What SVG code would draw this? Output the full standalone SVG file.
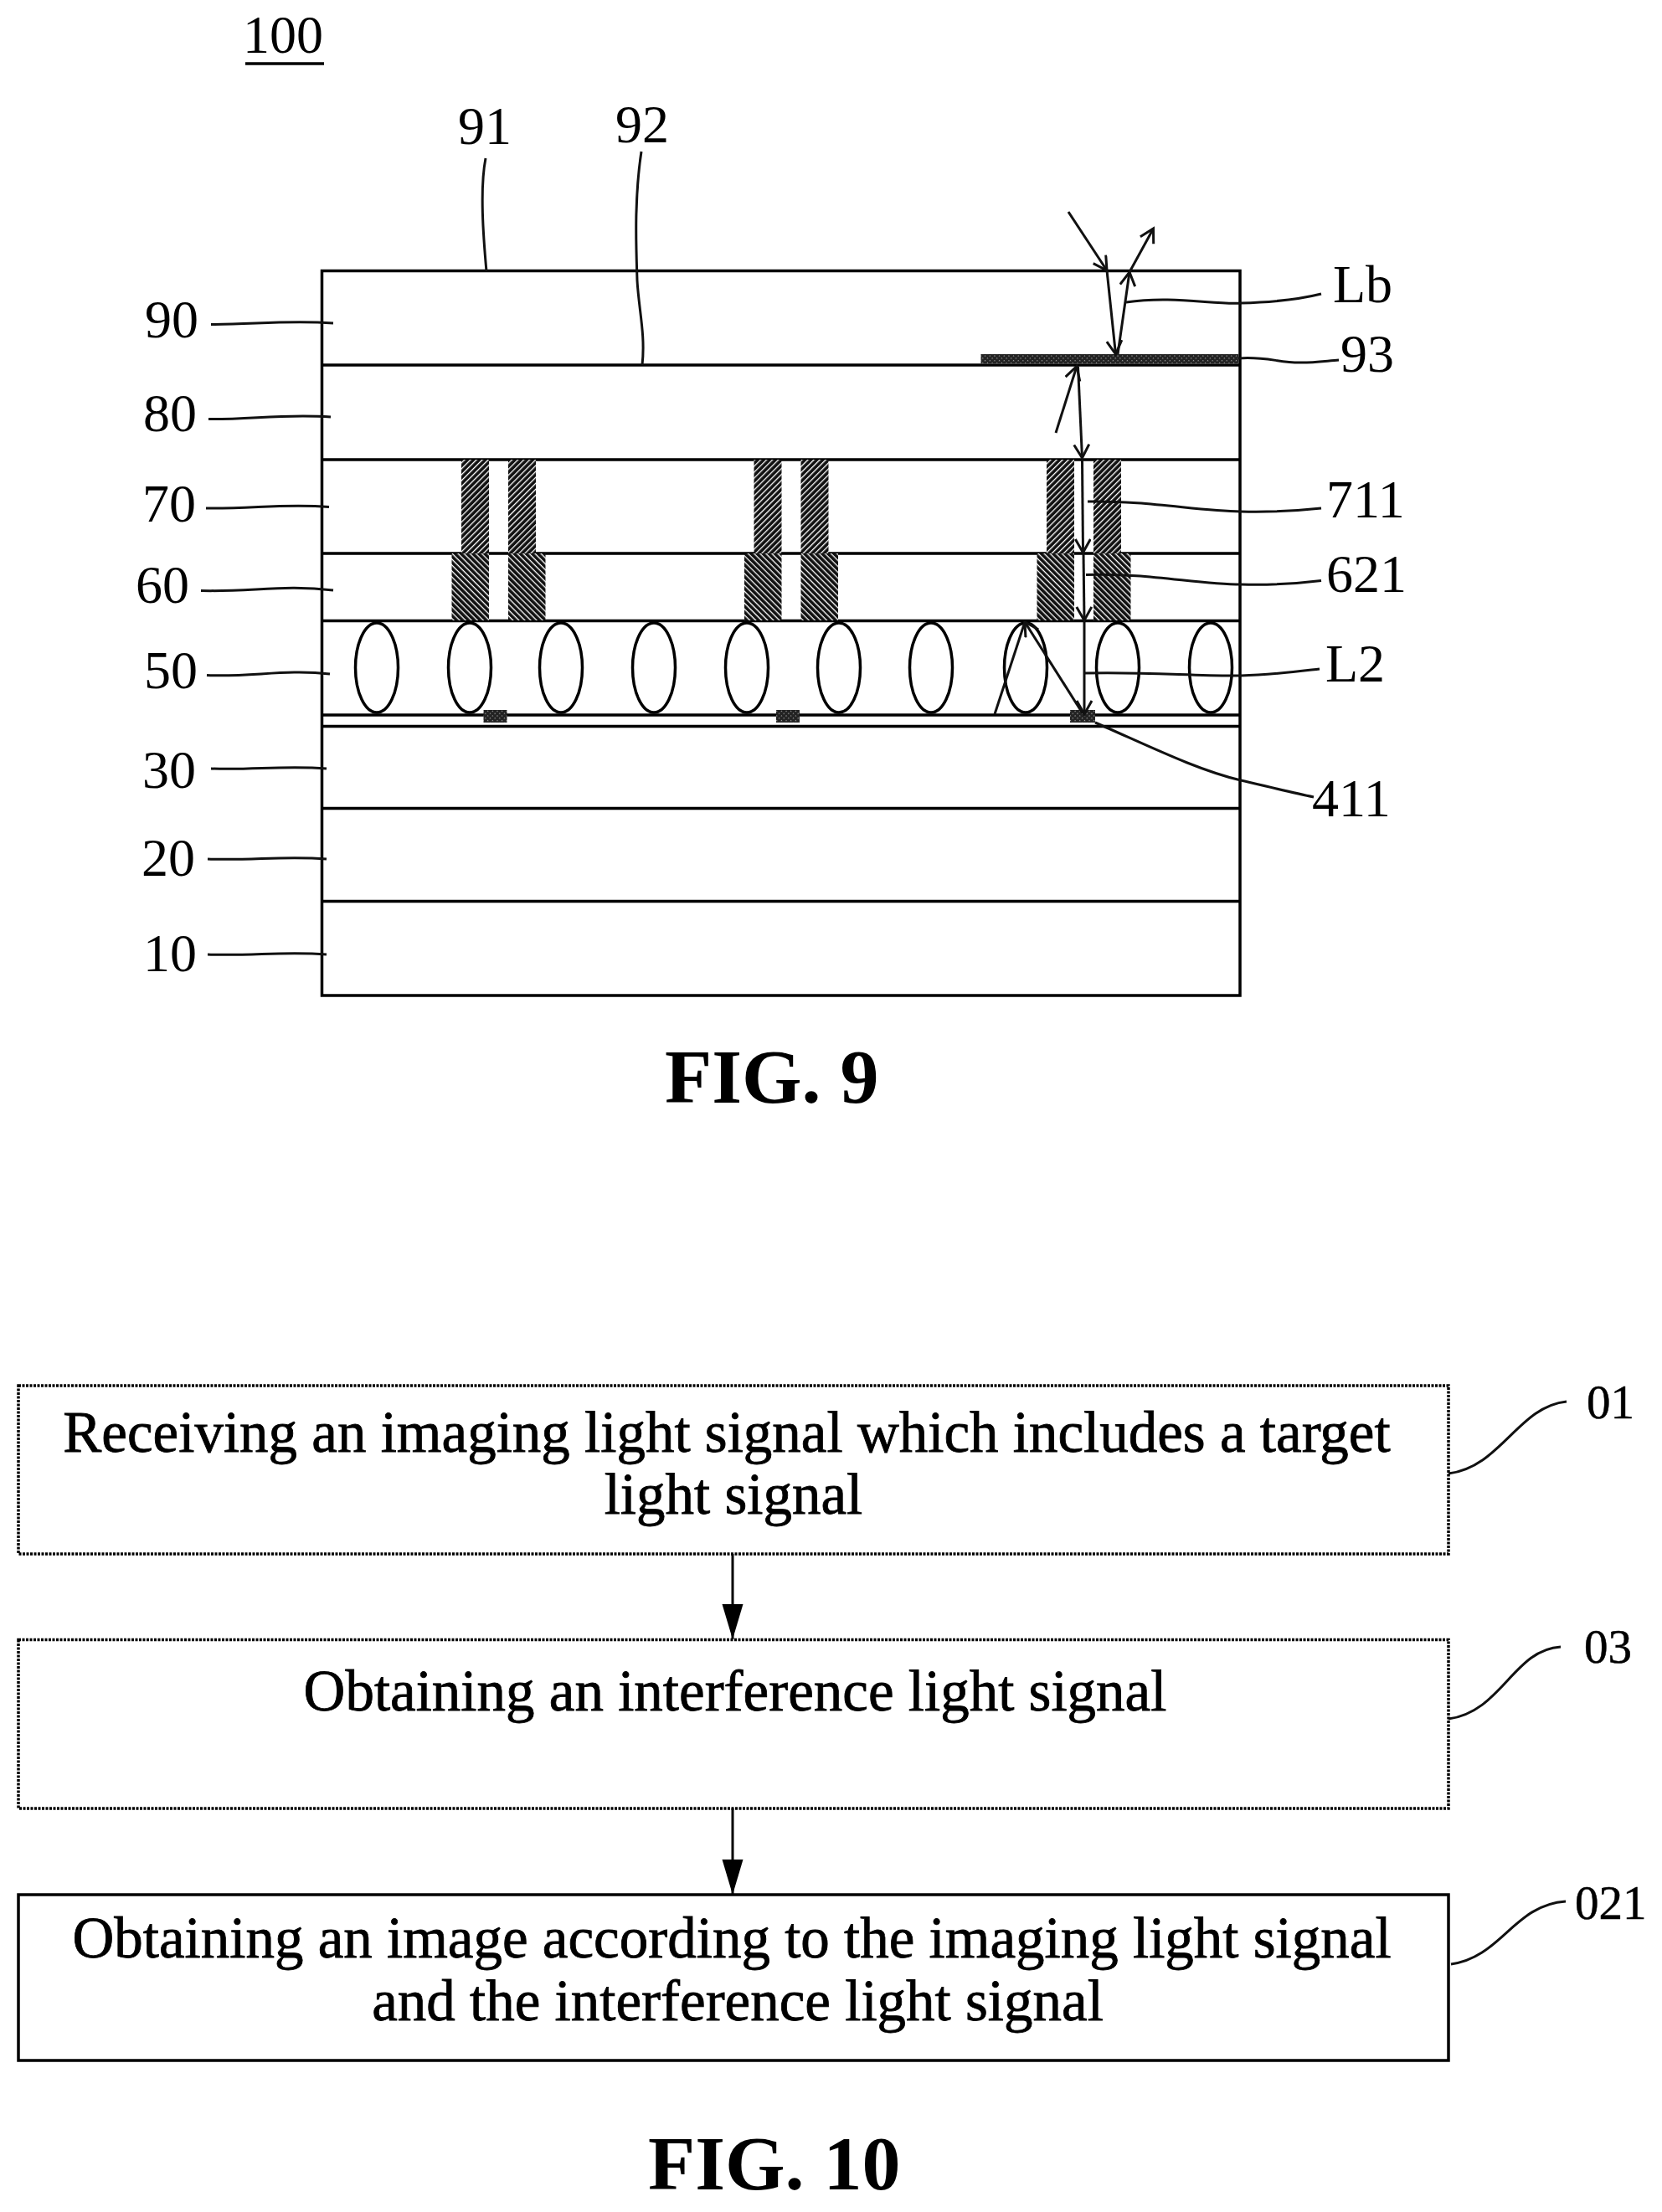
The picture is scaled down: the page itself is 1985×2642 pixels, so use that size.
<svg xmlns="http://www.w3.org/2000/svg" width="1985" height="2642" viewBox="0 0 1985 2642">
<style>
text{font-family:"Liberation Serif","Times New Roman",serif;fill:#000}
.n{font-size:64px}
.s{font-size:57px;stroke:#000;stroke-width:.5}
.f{font-size:92px;font-weight:bold}
.t{font-size:69px;text-anchor:middle;stroke:#000;stroke-width:.8}
.l{fill:none;stroke:#000;stroke-width:3.500}
.b{fill:#fff;stroke:#000;stroke-width:3.500}
.e{fill:#fff;stroke:#000;stroke-width:3.500}
.lead{fill:none;stroke:#111;stroke-width:3}
.ray{fill:none;stroke:#111;stroke-width:3}
.rayh{marker-end:url(#open)}
.flow{stroke:#000;stroke-width:3;marker-end:url(#solid)}
.p7{fill:url(#h7)}
.p6{fill:url(#h6)}
.el{fill:url(#h9)}
</style>
<defs>
<pattern id="h7" width="5" height="5" patternUnits="userSpaceOnUse" patternTransform="rotate(-45)"><rect width="5" height="5" fill="#111"/><rect y="0" width="5" height="1.300" fill="#fff"/></pattern>
<pattern id="h6" width="5" height="5" patternUnits="userSpaceOnUse" patternTransform="rotate(45)"><rect width="5" height="5" fill="#111"/><rect y="0" width="5" height="1.300" fill="#fff"/></pattern>
<pattern id="h9" width="4" height="4" patternUnits="userSpaceOnUse" patternTransform="rotate(45)"><rect width="4" height="4" fill="#222"/><rect width="1.200" height="1.200" fill="#aaa"/></pattern>
<marker id="open" markerUnits="userSpaceOnUse" markerWidth="24" markerHeight="24" refX="18" refY="10" orient="auto"><path d="M2 1L18 10L2 19" fill="none" stroke="#111" stroke-width="3"/></marker>
<marker id="solid" markerUnits="userSpaceOnUse" markerWidth="44" markerHeight="28" refX="42" refY="14" orient="auto"><path d="M0 1.500L42 14L0 26.500Z" fill="#000"/></marker>
</defs>
<rect width="1985" height="2642" fill="#fff"/>

<g id="fig9-label"><text class="n" x="290" y="63">100</text><path class="l" d="M293 76H387"/></g>

<g id="stack">
<rect class="b" x="384.500" y="323.500" width="1096.500" height="865.500"/>
<path class="l" d="M384.500 436H1481M384.500 549H1481M384.500 661H1481M384.500 741.500H1481M384.500 854H1481M384.500 867.500H1481M384.500 965.500H1481M384.500 1076.500H1481"/>
</g>

<g id="pillars-1"><rect class="p7" x="551" y="549" width="33" height="112"/><rect class="p7" x="607" y="549" width="33" height="112"/><rect class="p6" x="539.500" y="661" width="44.500" height="80"/><rect class="p6" x="607" y="661" width="44.500" height="80"/></g>
<g id="pillars-2"><rect class="p7" x="900.500" y="549" width="33" height="112"/><rect class="p7" x="956.500" y="549" width="33" height="112"/><rect class="p6" x="889" y="661" width="44.500" height="80"/><rect class="p6" x="956.500" y="661" width="44.500" height="80"/></g>
<g id="pillars-3"><rect class="p7" x="1250" y="549" width="33" height="112"/><rect class="p7" x="1306" y="549" width="33" height="112"/><rect class="p6" x="1238.500" y="661" width="44.500" height="80"/><rect class="p6" x="1306" y="661" width="44.500" height="80"/></g>

<g id="liquid-crystal">
<ellipse class="e" cx="450" cy="797.500" rx="25.500" ry="53.500"/>
<ellipse class="e" cx="561" cy="797.500" rx="25.500" ry="53.500"/>
<ellipse class="e" cx="670" cy="797.500" rx="25.500" ry="53.500"/>
<ellipse class="e" cx="781" cy="797.500" rx="25.500" ry="53.500"/>
<ellipse class="e" cx="892" cy="797.500" rx="25.500" ry="53.500"/>
<ellipse class="e" cx="1002" cy="797.500" rx="25.500" ry="53.500"/>
<ellipse class="e" cx="1112" cy="797.500" rx="25.500" ry="53.500"/>
<ellipse class="e" cx="1225" cy="797.500" rx="25.500" ry="53.500"/>
<ellipse class="e" cx="1335" cy="797.500" rx="25.500" ry="53.500"/>
<ellipse class="e" cx="1446" cy="797.500" rx="25.500" ry="53.500"/>
</g>

<g id="electrodes"><rect class="el" x="577.500" y="848" width="28" height="15"/><rect class="el" x="927" y="848" width="28" height="15"/><rect class="el" x="1278" y="848" width="30" height="15"/></g>
<g id="layer-93"><rect class="el" x="1171.500" y="423" width="307.500" height="11"/></g>

<g id="connectors">
<path class="ray rayh" d="M1276 253L1322 323"/>
<path class="ray rayh" d="M1322 323L1332.500 423"/>
<path class="ray rayh" d="M1335 423L1349 325"/>
<path class="ray rayh" d="M1349 325L1377.500 273"/>
<path class="ray rayh" d="M1261 517L1286 437.500"/>
<path class="ray rayh" d="M1287.500 437.500L1292.500 547"/>
<path class="ray rayh" d="M1292.500 549L1293.500 660"/>
<path class="ray rayh" d="M1294 661L1295 741"/>
<path class="ray rayh" d="M1295 741.500L1295 853"/>
<path class="ray rayh" d="M1293 852L1224 743"/>
<path class="ray" d="M1224 743L1188 853"/>

<path class="lead" d="M580 189C573 225 577 280 581 324"/>
<path class="lead" d="M766 181C757 240 760 300 761 335C763 370 771 400 767 436"/>
<path class="lead" d="M252 387.500C300 388 340 382 398 386"/>
<path class="lead" d="M249 500.500C300 501 340 494 395 498"/>
<path class="lead" d="M246 607C300 608 340 601 393 605.500"/>
<path class="lead" d="M240 705.500C300 707 340 698 398 705"/>
<path class="lead" d="M247 806.500C300 809 340 799 394 805"/>
<path class="lead" d="M252 918C300 920 340 914 390 918"/>
<path class="lead" d="M248 1026C300 1028 340 1022 390 1026"/>
<path class="lead" d="M248 1140C300 1142 340 1136 390 1140"/>
<path class="lead" d="M1345 361C1400 353 1450 364 1482 362C1520 361 1550 358 1578 351"/>
<path class="lead" d="M1479 428C1510 425 1530 434 1555 433C1570 433 1585 431 1599 430"/>
<path class="lead" d="M1299 599C1370 598 1430 610 1482 611C1520 612 1550 610 1578 607"/>
<path class="lead" d="M1297 686.500C1370 684 1430 698 1482 698C1520 699 1550 697 1578 693.500"/>
<path class="lead" d="M1295 804C1370 802 1430 808 1482 807C1520 806 1550 802 1576 799"/>
<path class="lead" d="M1308 863C1370 890 1430 920 1482 932C1520 941 1545 947 1569 952"/>

<path class="flow" d="M875 1856V1958"/>
<path class="flow" d="M875 2160V2263"/>
<path class="lead" d="M1730 1760C1793 1752 1813 1680 1871 1674"/>
<path class="lead" d="M1730 2053C1793 2045 1808 1970 1864 1967"/>
<path class="lead" d="M1733 2346C1793 2338 1808 2275 1870 2271"/>
</g>

<g id="labels-left">
<text class="n" x="173" y="403">90</text>
<text class="n" x="171" y="515">80</text>
<text class="n" x="170" y="623">70</text>
<text class="n" x="162" y="720">60</text>
<text class="n" x="172" y="822">50</text>
<text class="n" x="170" y="941">30</text>
<text class="n" x="169" y="1046">20</text>
<text class="n" x="171" y="1160">10</text>
</g>
<g id="labels-top"><text class="n" x="547" y="172">91</text><text class="n" x="735" y="170">92</text></g>
<g id="labels-right">
<text class="n" x="1592" y="361">Lb</text>
<text class="n" x="1601" y="444">93</text>
<text class="n" x="1584" y="618">711</text>
<text class="n" x="1584" y="707">621</text>
<text class="n" x="1583" y="814">L2</text>
<text class="n" x="1567" y="975">411</text>
</g>
<text class="f" x="794" y="1317">FIG. 9</text>

<g id="step-01"><rect class="b" x="22" y="1655" width="1708" height="201" stroke-dasharray="3 1.500"/>
<text class="t" x="868" y="1734">Receiving an imaging light signal which includes a target</text><text class="t" x="876" y="1808">light signal</text></g>
<g id="step-03"><rect class="b" x="22" y="1958.500" width="1708" height="201.500" stroke-dasharray="3 1.500"/>
<text class="t" x="878" y="2043">Obtaining an interference light signal</text></g>
<g id="step-021"><rect class="b" x="22" y="2263" width="1708" height="198"/>
<text class="t" x="874" y="2338">Obtaining an image according to the imaging light signal</text><text class="t" x="881" y="2413">and the interference light signal</text></g>
<g id="step-labels"><text class="s" x="1895" y="1694">01</text><text class="s" x="1892" y="1986">03</text><text class="s" x="1881" y="2292">021</text></g>
<text class="f" x="774" y="2615">FIG. 10</text>
</svg>
